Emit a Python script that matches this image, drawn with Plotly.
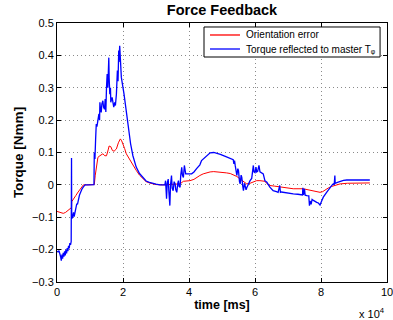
import plotly.graph_objects as go

# Orientation error (time in ms, torque in Nmm)
red_t = [0, 600, 1400, 1900, 2600, 3300, 3900, 4400, 4450, 5000, 5700, 6400, 7000, 7500, 8000, 9000,
         10000, 11300, 11600, 12000, 12400, 13000, 13500, 13900, 14500, 15000, 15500, 15800, 16300,
         16800, 17300, 17800, 18000, 18600, 19200, 19600, 20000, 20500, 21000, 22000, 23000, 24000,
         25000, 26000, 27000, 28000, 29000, 30000, 32000, 34000, 36000, 37300, 38300, 40300, 41500,
         42300, 43300, 44300, 45500, 46400, 47500, 49000, 51400, 52500, 53400, 54500, 55500, 56500,
         57500, 58500, 59500, 60500, 61500, 63000, 63600, 64500, 66000, 68000, 70000, 71600, 74600,
         76700, 78700, 79700, 80500, 81200, 82300, 83200, 84500, 85800, 88000, 91000, 94800]
red_v = [-0.082, -0.084, -0.088, -0.088, -0.085, -0.080, -0.074, -0.070, -0.052, -0.045, -0.033,
         -0.022, -0.015, -0.006, 0.000, 0.000, 0.000, 0.001, 0.030, 0.060, 0.085, 0.090, 0.092,
         0.096, 0.090, 0.090, 0.108, 0.120, 0.118, 0.106, 0.104, 0.108, 0.111, 0.130, 0.142, 0.136,
         0.127, 0.112, 0.096, 0.078, 0.062, 0.045, 0.030, 0.019, 0.010, 0.006, 0.003, 0.001, 0.000,
         0.001, 0.002, 0.003, 0.011, 0.013, 0.017, 0.023, 0.029, 0.034, 0.038, 0.040, 0.041, 0.040,
         0.037, 0.035, 0.032, 0.026, 0.018, 0.010, 0.003, 0.005, 0.010, 0.013, 0.013, 0.011, 0.004,
         -0.002, -0.004, -0.007, -0.010, -0.012, -0.012, -0.016, -0.021, -0.023, -0.021, -0.016,
         -0.009, -0.005, 0.000, 0.003, 0.005, 0.006, 0.006]

# Torque reflected to master
blue_t = [0, 300, 600, 900, 1100, 1300, 1500, 1700, 1900, 2100, 2300, 2500, 2700, 2900, 3100, 3300,
          3500, 3700, 3900, 4100, 4300, 4400, 4450, 4700, 5000, 5200, 5500, 5800, 6000, 6200, 6500,
          6800, 7000, 7300, 7600, 8000, 8500, 9500, 10500, 11200, 11300, 11500, 11700, 11900, 12100,
          12400, 12700, 12900, 13000, 13200, 13400, 13600, 13900, 14100, 14400, 14600, 14800, 15000,
          15200, 15400, 15700, 15800, 16000, 16200, 16300, 16500, 16700, 16900, 17000, 17200, 17500,
          17700, 18000, 18300, 18500, 18700, 18800, 19000, 19200, 19500, 20300, 21000, 21700, 22300,
          23000, 23500, 24000, 25000, 26000, 27000, 28000, 29000, 30000, 31200, 32700, 32900, 33000,
          33200, 33400, 33700, 33900, 34200, 34400, 34700, 34900, 35200, 35500, 35800, 36000, 36300,
          36600, 36800, 37000, 37300, 37500, 37800, 38000, 38300, 38600, 38800, 39000, 40800, 41500,
          42300, 43300, 43800, 44800, 45500, 46400, 47500, 48400, 49500, 51000, 52000, 53000, 53400,
          53600, 53800, 54000, 54300, 54500, 54800, 55000, 55300, 55500, 55800, 56000, 56300, 56500,
          56800, 57000, 57300, 57500, 58000, 58500, 59000, 59300, 59500, 59700, 60000, 60300, 60500,
          60800, 61200, 61500, 62000, 62500, 63000, 63600, 64500, 65500, 66500, 67000, 67500, 67700,
          68000, 69000, 70000, 71600, 73000, 74400, 74500, 74700, 75000, 75200, 75700, 76300, 76500,
          76700, 77000, 77300, 77700, 78200, 78700, 79200, 79700, 80200, 80700, 81700, 82700, 83400,
          83700, 84000, 84200, 84300, 85000, 85800, 86800, 87800, 90000, 91800, 93500, 94800]
blue_v = [-0.205, -0.207, -0.203, -0.212, -0.222, -0.234, -0.215, -0.228, -0.210, -0.222, -0.205,
          -0.218, -0.200, -0.212, -0.195, -0.205, -0.188, -0.196, -0.180, -0.185, -0.175, 0.083,
          -0.104, -0.100, -0.085, -0.098, -0.080, -0.066, -0.058, -0.060, -0.040, -0.032, -0.027,
          -0.018, -0.012, -0.006, 0.000, 0.000, 0.000, 0.001, 0.100, 0.080, 0.140, 0.188, 0.180,
          0.204, 0.219, 0.200, 0.255, 0.230, 0.224, 0.250, 0.260, 0.240, 0.234, 0.265, 0.225, 0.301,
          0.342, 0.300, 0.393, 0.330, 0.280, 0.300, 0.255, 0.265, 0.270, 0.250, 0.245, 0.240, 0.255,
          0.245, 0.280, 0.353, 0.320, 0.415, 0.380, 0.430, 0.370, 0.332, 0.281, 0.224, 0.173, 0.127,
          0.090, 0.070, 0.055, 0.035, 0.022, 0.012, 0.008, 0.004, 0.002, 0.000, 0.000, 0.013, -0.033,
          -0.043, 0.005, 0.018, -0.020, -0.064, 0.000, 0.029, -0.010, -0.018, 0.010, 0.003, -0.015,
          -0.023, 0.005, 0.013, -0.005, -0.007, 0.030, 0.054, 0.030, 0.023, 0.060, 0.040, 0.034,
          0.034, 0.040, 0.050, 0.062, 0.075, 0.085, 0.093, 0.099, 0.100, 0.098, 0.094, 0.088, 0.084,
          0.080, 0.078, 0.065, 0.075, 0.060, 0.035, 0.029, 0.050, 0.044, 0.010, 0.003, 0.030, 0.023,
          -0.005, -0.018, 0.005, -0.002, -0.015, -0.009, 0.003, 0.013, 0.020, 0.045, 0.060, 0.040,
          0.038, 0.055, 0.040, 0.042, 0.060, 0.040, 0.038, 0.034, 0.013, 0.008, -0.007, -0.018,
          -0.021, -0.023, -0.002, -0.023, -0.022, -0.024, -0.026, -0.028, -0.029, -0.031, -0.009,
          -0.031, -0.012, -0.032, -0.033, -0.034, -0.064, -0.050, -0.060, -0.045, -0.048, -0.052,
          -0.054, -0.056, -0.062, -0.050, -0.038, -0.023, -0.007, 0.000, 0.003, 0.000, 0.029, 0.005,
          0.008, 0.011, 0.014, 0.015, 0.015, 0.013, 0.014, 0.015]

series_names = ["Orientation error", "Torque reflected to master T\u1d69"]
series_colors = ["#ff0000", "#0000ff"]

x_tickvals = [0, 20000, 40000, 60000, 80000, 100000]
x_ticktext = ["0", "2", "4", "6", "8", "10"]
y_tickvals = [-0.3, -0.2, -0.1, 0, 0.1, 0.2, 0.3, 0.4, 0.5]
y_ticktext = ["\u22120.3", "\u22120.2", "\u22120.1", "0", "0.1", "0.2", "0.3", "0.4", "0.5"]

FONT = "Liberation Sans, Arial, Helvetica, sans-serif"

fig = go.Figure()
fig.add_trace(go.Scatter(x=red_t, y=red_v, mode="lines", name=series_names[0],
                         line=dict(color=series_colors[0], width=1)))
fig.add_trace(go.Scatter(x=blue_t, y=blue_v, mode="lines", name=series_names[1],
                         line=dict(color=series_colors[1], width=1.3)))

axis_common = dict(showline=True, linecolor="black", linewidth=1, mirror="ticks",
                   ticks="inside", ticklen=4, tickcolor="black", ticklabeloverflow="allow",
                   showgrid=True, gridcolor="#8a8a8a", griddash="1px,3px", gridwidth=1,
                   zeroline=False, automargin=False,
                   tickfont=dict(family=FONT, size=11, color="black"))

fig.update_xaxes(range=[0, 100000], tickvals=x_tickvals, ticktext=x_ticktext,
                 title=dict(text="<b>time [ms]</b>", font=dict(family=FONT, size=12.5, color="black"),
                            standoff=3),
                 **axis_common)
fig.update_yaxes(range=[-0.3, 0.5], tickvals=y_tickvals, ticktext=y_ticktext,
                 title=dict(text="<b>Torque [Nmm]</b>", font=dict(family=FONT, size=13.5, color="black"),
                            standoff=5),
                 **axis_common)

# Compact legend box (MATLAB style), drawn in paper coordinates
leg_x0, leg_x1, leg_y0, leg_y1 = 0.4455, 0.979, 0.8687, 0.9846
row_y = [0.9537, 0.8996]
shapes = [dict(type="rect", xref="paper", yref="paper", x0=leg_x0, x1=leg_x1, y0=leg_y0, y1=leg_y1,
               line=dict(color="black", width=1), fillcolor="white", layer="above")]
annotations = []
for name, color, yy in zip(series_names, series_colors, row_y):
    shapes.append(dict(type="line", xref="paper", yref="paper", x0=0.4636, x1=0.5545, y0=yy, y1=yy,
                       line=dict(color=color, width=1.3), layer="above"))
    annotations.append(dict(text=name, xref="paper", yref="paper", x=0.5667, y=yy,
                            xanchor="left", yanchor="middle", showarrow=False,
                            font=dict(family=FONT, size=10, color="black")))
annotations.append(dict(text="x 10<sup>4</sup>", xref="paper", yref="paper", x=1.0, y=-0.085,
                        xanchor="right", yanchor="top", showarrow=False, xshift=0,
                        font=dict(family=FONT, size=11, color="black")))

fig.update_layout(
    width=393, height=320,
    margin=dict(l=57, r=6, t=23, b=38),
    paper_bgcolor="white", plot_bgcolor="white",
    title=dict(text="<b>Force Feedback</b>", xref="paper", x=0.5, xanchor="center",
               y=0.985, yanchor="top",
               font=dict(family=FONT, size=14.5, color="black")),
    showlegend=False,
    shapes=shapes,
    annotations=annotations,
)

fig.write_html("out.html")
